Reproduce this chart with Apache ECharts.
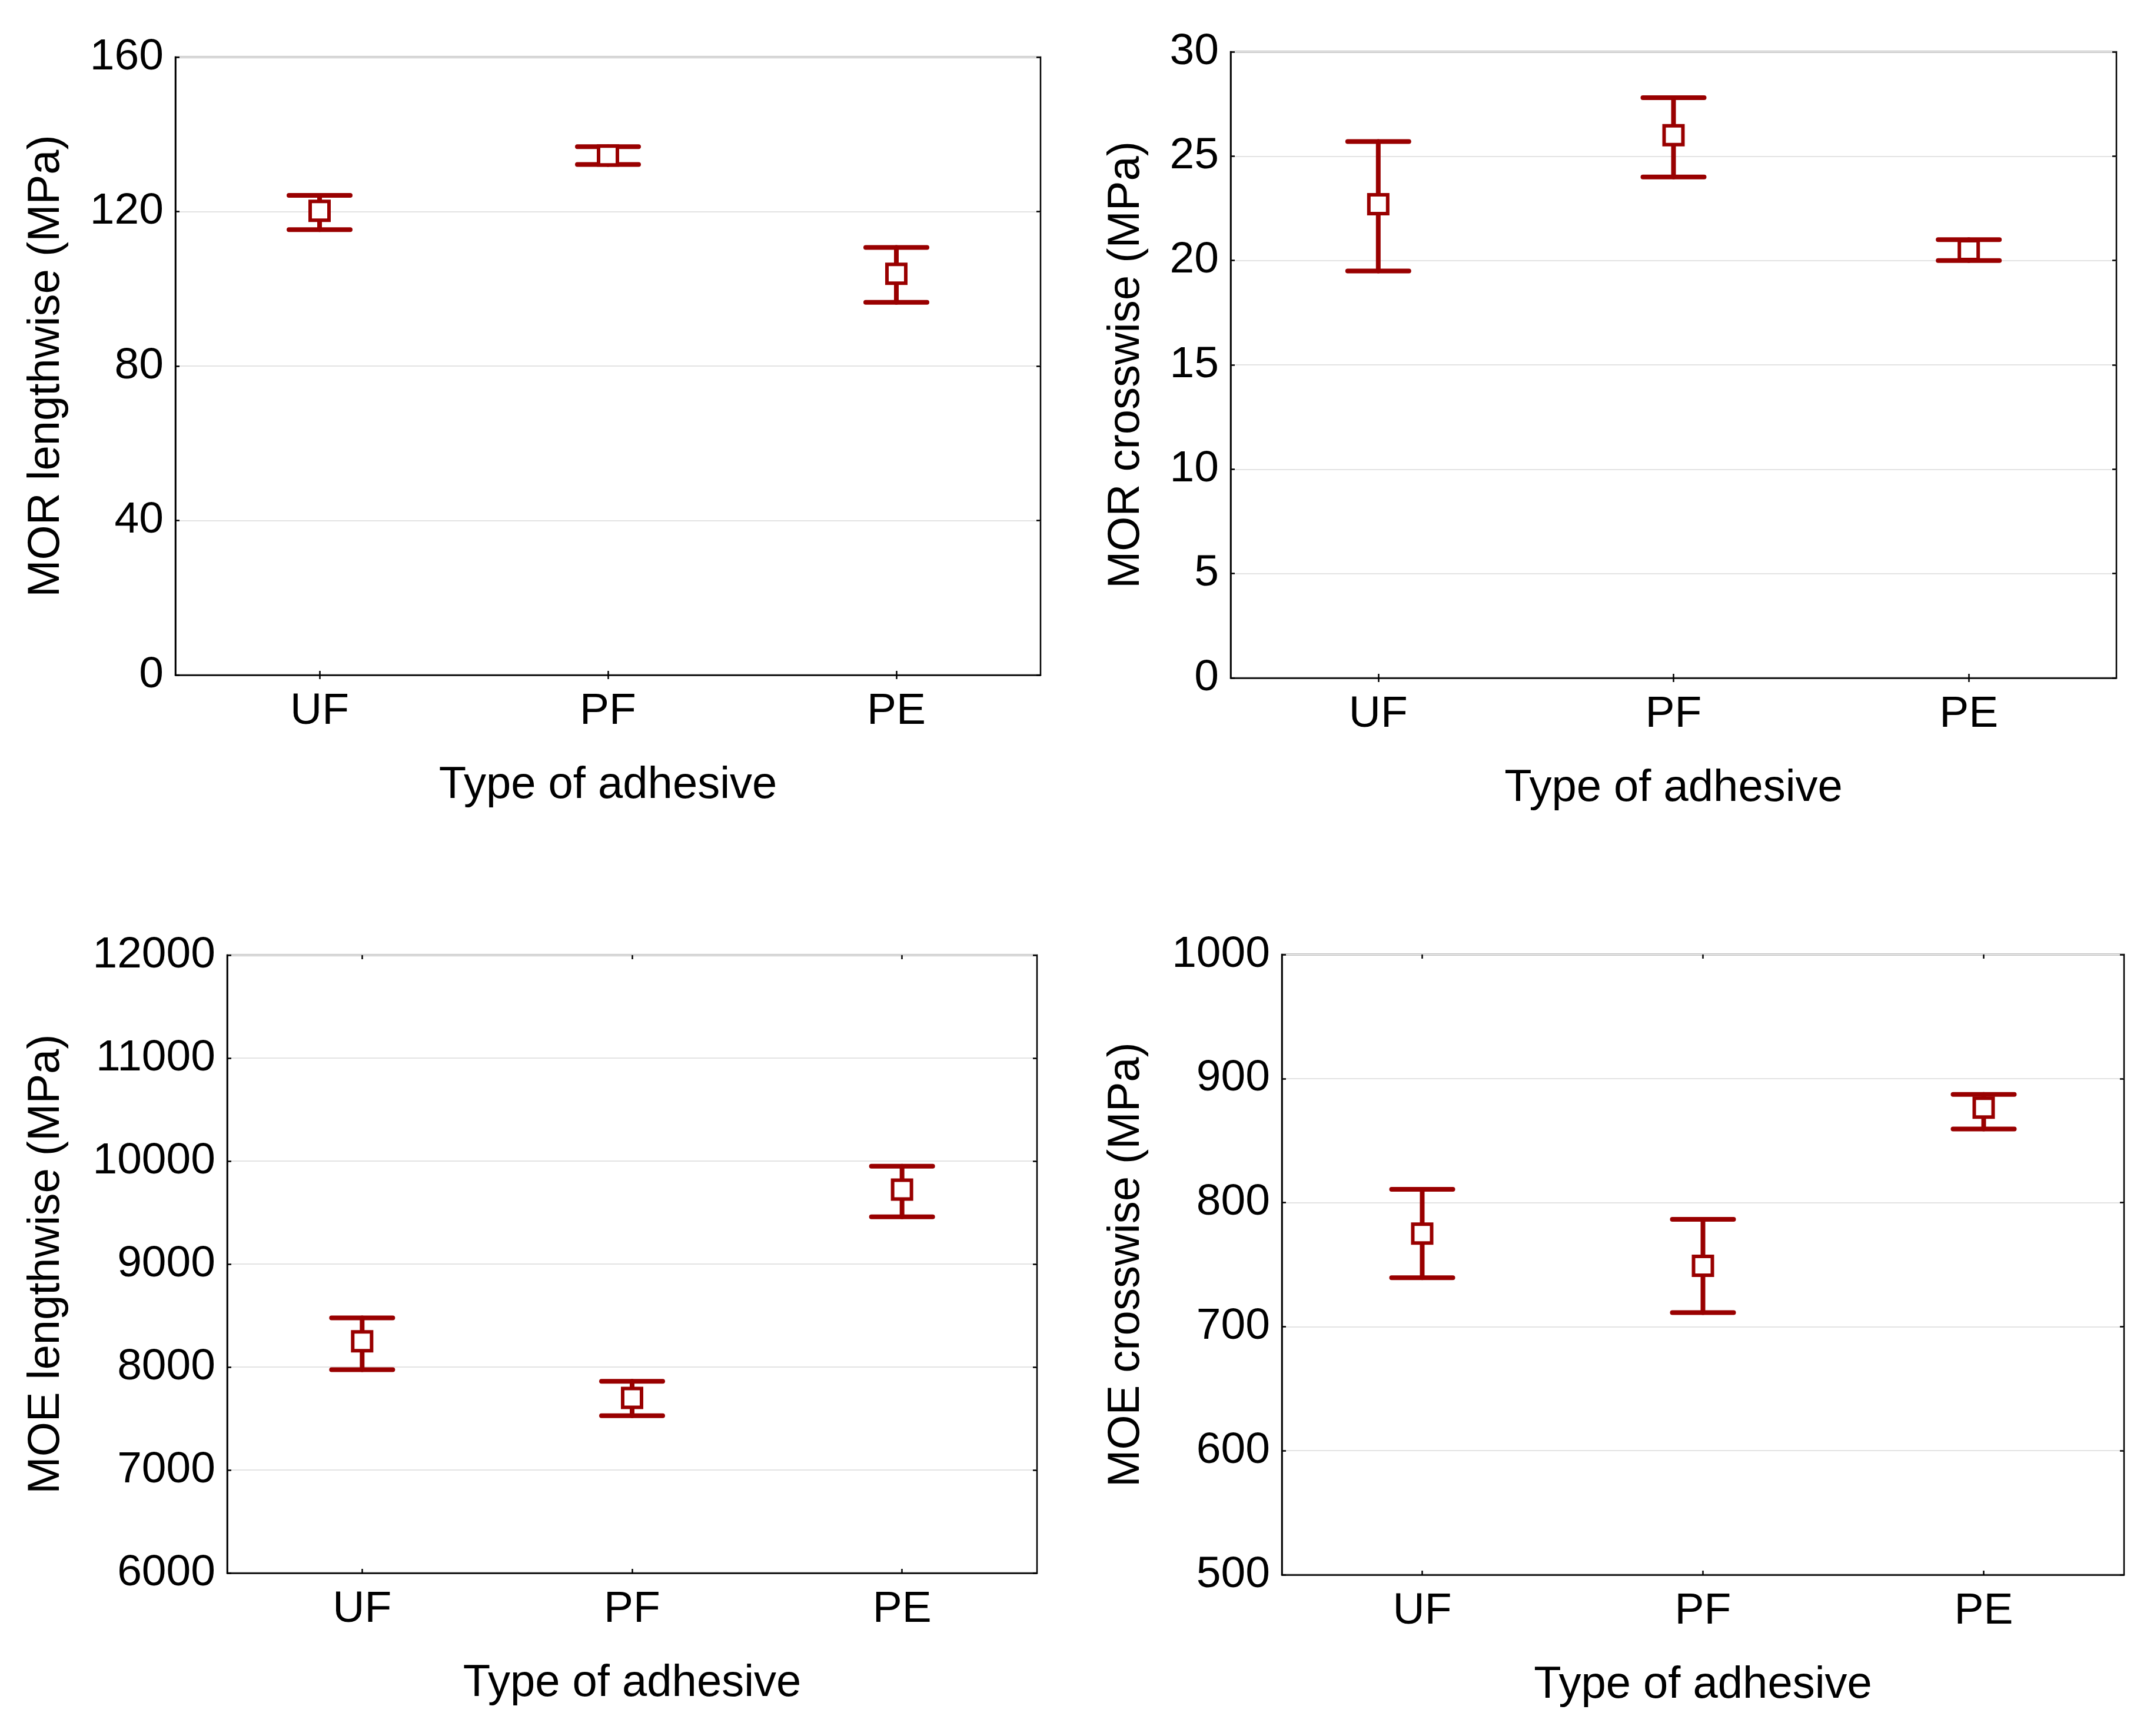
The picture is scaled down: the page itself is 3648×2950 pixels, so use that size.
<!DOCTYPE html>
<html>
<head>
<meta charset="utf-8">
<script src="https://cdn.jsdelivr.net/npm/echarts@6/dist/echarts.min.js"></script>
<style>
html,body{margin:0;padding:0;background:#fff;}
#c{width:3648px;height:2950px;}
</style>
</head>
<body>
<div id="c"></div>
<script>
// ---- data ----
const categories = ['UF', 'PF', 'PE'];
const xAxisTitle = 'Type of adhesive';

const morLenMean = [120.2, 134.5, 103.9];
const morLenLow  = [115.3, 132.2, 96.5];
const morLenHigh = [124.2, 136.8, 110.7];

const morCrossMean = [22.7, 26.0, 20.5];
const morCrossLow  = [19.5, 24.0, 20.0];
const morCrossHigh = [25.7, 27.8, 21.0];

const moeLenMean = [8250, 7700, 9723];
const moeLenLow  = [7975, 7527, 9459];
const moeLenHigh = [8477, 7862, 9950];

const moeCrossMean = [775, 749, 876.5];
const moeCrossLow  = [739.5, 711.3, 859.4];
const moeCrossHigh = [810.7, 786.5, 887.2];

// ---- styling ----
const RED = '#990000';
const FONT = 'Liberation Sans, Arial, sans-serif';
const LABEL_SIZE = 75;
const NAME_SIZE = 76;

function build(mean, low, high) {
  return categories.map((c, i) => [i, low[i], high[i], mean[i]]);
}

function renderErr(params, api) {
  const x = api.value(0);
  const pLo = api.coord([x, api.value(1)]);
  const pHi = api.coord([x, api.value(2)]);
  const pM = api.coord([x, api.value(3)]);
  const cap = 52, sq = 16, lw = 8;
  const st = {stroke: RED, lineWidth: lw, fill: null, lineCap: 'round'};
  return {
    type: 'group',
    children: [
      {type: 'line', shape: {x1: pLo[0], y1: pLo[1], x2: pHi[0], y2: pHi[1]}, style: st},
      {type: 'line', shape: {x1: pLo[0] - cap, y1: pLo[1], x2: pLo[0] + cap, y2: pLo[1]}, style: st},
      {type: 'line', shape: {x1: pHi[0] - cap, y1: pHi[1], x2: pHi[0] + cap, y2: pHi[1]}, style: st},
      {type: 'rect', shape: {x: pM[0] - sq, y: pM[1] - sq, width: 2 * sq, height: 2 * sq},
        style: {fill: '#fff', stroke: RED, lineWidth: 6}}
    ]
  };
}

const panels = [
  {name: 'MOR lengthwise (MPa)', min: 0, max: 160, interval: 40, data: build(morLenMean, morLenLow, morLenHigh),
   grid: {left: 298, top: 97, width: 1470, height: 1050}, nameGap: 181},
  {name: 'MOR crosswise (MPa)', min: 0, max: 30, interval: 5, data: build(morCrossMean, morCrossLow, morCrossHigh),
   grid: {left: 2091, top: 88, width: 1505, height: 1064}, nameGap: 139},
  {name: 'MOE lengthwise (MPa)', min: 6000, max: 12000, interval: 1000, data: build(moeLenMean, moeLenLow, moeLenHigh),
   grid: {left: 386, top: 1623, width: 1376, height: 1050}, nameGap: 269},
  {name: 'MOE crosswise (MPa)', min: 500, max: 1000, interval: 100, data: build(moeCrossMean, moeCrossLow, moeCrossHigh),
   grid: {left: 2178, top: 1622, width: 1431, height: 1054}, nameGap: 226}
];

const grids = [], xAxes = [], yAxes = [], series = [];
panels.forEach((p, i) => {
  grids.push(Object.assign({show: true, borderColor: '#000', borderWidth: 2.5, backgroundColor: '#fff'}, p.grid));
  const tick = {show: true, inside: true, length: 7, lineStyle: {color: '#000', width: 2.5}};
  xAxes.push({
    gridIndex: i, type: 'category', data: categories, boundaryGap: true, position: 'bottom',
    axisLine: {show: true, lineStyle: {color: '#000', width: 2.5}},
    axisTick: Object.assign({alignWithLabel: true}, tick),
    axisLabel: {color: '#000', fontSize: LABEL_SIZE, fontFamily: FONT, margin: 25},
    name: xAxisTitle, nameLocation: 'middle', nameGap: 150,
    nameTextStyle: {color: '#000', fontSize: NAME_SIZE, fontFamily: FONT},
    splitLine: {show: false}
  });
  xAxes.push({
    gridIndex: i, type: 'category', data: categories, boundaryGap: true, position: 'top',
    axisLine: {show: false}, axisTick: Object.assign({alignWithLabel: true}, tick),
    axisLabel: {show: false}, splitLine: {show: false}
  });
  yAxes.push({
    gridIndex: i, type: 'value', min: p.min, max: p.max, interval: p.interval, position: 'left',
    axisLine: {show: true, lineStyle: {color: '#000', width: 2.5}},
    axisTick: tick,
    axisLabel: {color: '#000', fontSize: LABEL_SIZE, fontFamily: FONT, margin: 20,
      formatter: v => String(v)},
    splitLine: {show: true, lineStyle: {color: '#e3e3e3', width: 2}},
    name: p.name, nameLocation: 'middle', nameGap: p.nameGap, nameRotate: 90,
    nameTextStyle: {color: '#000', fontSize: NAME_SIZE, fontFamily: FONT}
  });
  yAxes.push({
    gridIndex: i, type: 'value', min: p.min, max: p.max, interval: p.interval, position: 'right',
    axisLine: {show: false}, axisTick: tick, axisLabel: {show: false}, splitLine: {show: false}
  });
  series.push({
    type: 'custom', xAxisIndex: 2 * i, yAxisIndex: 2 * i, data: p.data,
    renderItem: renderErr, clip: false, z: 5,
    encode: {x: 0, y: [1, 2, 3]}
  });
});

const chart = echarts.init(document.getElementById('c'), null, {renderer: 'canvas'});
chart.setOption({
  backgroundColor: '#fff',
  animation: false,
  grid: grids,
  xAxis: xAxes,
  yAxis: yAxes,
  series: series
});
</script>
</body>
</html>
